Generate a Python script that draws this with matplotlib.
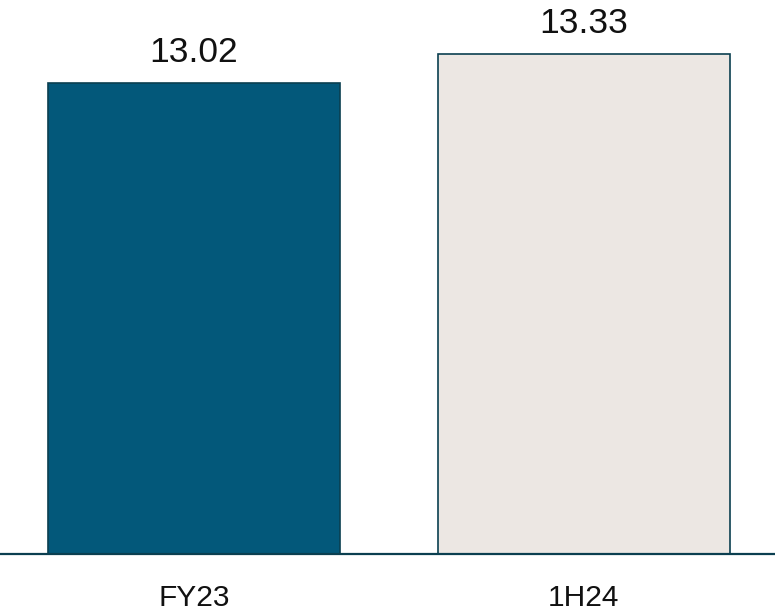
import matplotlib.pyplot as plt

periods = ["FY23", "1H24"]
values = [13.02, 13.33]
fill_colors = ["#03587A", "#ECE7E3"]
edge_color = "#0B3F50"

plt.rcParams['font.family'] = ['Liberation Sans', 'DejaVu Sans']

fig = plt.figure(figsize=(7.75, 6.11), dpi=100)
ax = fig.add_axes([0, 1 - 554 / 611, 1, 554 / 611])

x = range(len(periods))
bars = ax.bar(x, values, width=0.75, color=fill_colors,
              edgecolor=edge_color, linewidth=1.2, zorder=2)

for bar, v in zip(bars, values):
    ax.annotate(f"{v:.2f}", (bar.get_x() + bar.get_width() / 2, v),
                xytext=(0, 9.7), textcoords="offset points",
                ha="center", va="bottom", fontsize=25.5, color="#111111")

ax.set_xlim(-0.497, 1.49)
ax.set_ylim(8, 13.9)

ax.set_xticks(list(x))
ax.set_xticklabels(periods, fontsize=21.5, color="#111111")
ax.tick_params(axis="x", length=0, pad=21.5)
ax.set_yticks([])

for side in ["top", "left", "right"]:
    ax.spines[side].set_visible(False)
ax.spines["bottom"].set_color(edge_color)
ax.spines["bottom"].set_linewidth(1.6)
ax.spines["bottom"].set_zorder(3)

fig.savefig("out.png", dpi=100)
